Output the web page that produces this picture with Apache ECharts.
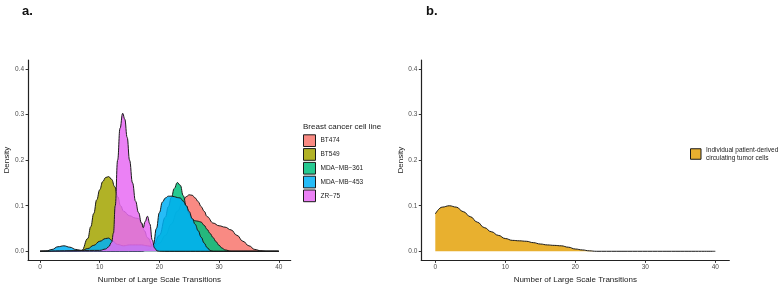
<!DOCTYPE html>
<html><head><meta charset="utf-8">
<script src="https://cdn.jsdelivr.net/npm/echarts@6/dist/echarts.min.js"></script>
<style>html,body{margin:0;padding:0;background:#fff}#c{width:784px;height:293px}</style>
</head><body><div id="c"></div>
<script>
const cellLines = ['BT474', 'BT549', 'MDA\u2212MB\u2212361', 'MDA\u2212MB\u2212453', 'ZR\u221275'];
const ctcName = 'Individual patient-derived\ncirculating tumor cells';
const legendTitleA = 'Breast cancer cell line';
const xTitle = 'Number of Large Scale Transitions';
const yTitle = 'Density';
const xTicks = [0, 10, 20, 30, 40];
const yTicks = [0, 0.1, 0.2, 0.3, 0.4];

const bt474X = [0, 17, 18, 19, 20, 21, 22, 23, 24, 24.5, 25, 25.5, 26, 26.5, 27, 27.5, 28, 29, 30, 31, 32, 33, 34, 35, 36, 37, 38, 40];
const bt474Y = [0, 0, 0.003, 0.008, 0.018, 0.035, 0.06, 0.088, 0.112, 0.12, 0.124, 0.123, 0.117, 0.109, 0.098, 0.088, 0.076, 0.062, 0.056, 0.053, 0.047, 0.035, 0.022, 0.012, 0.004, 0.001, 0, 0];

const bt549X = [0, 6, 7, 8, 8.5, 9, 9.5, 10, 10.5, 11, 11.5, 12, 12.5, 13, 13.5, 14, 15, 16, 16.5, 17, 17.5, 18, 19, 20, 21, 40];
const bt549Y = [0, 0, 0.002, 0.028, 0.054, 0.083, 0.113, 0.135, 0.153, 0.162, 0.164, 0.158, 0.142, 0.12, 0.1, 0.088, 0.078, 0.073, 0.072, 0.062, 0.045, 0.03, 0.01, 0.002, 0, 0];

const mda361X = [0, 17, 18, 19, 20, 21, 21.5, 22, 22.5, 23, 23.5, 24, 24.5, 25, 25.5, 26, 26.5, 27, 27.5, 28, 28.5, 29, 29.5, 30, 30.5, 31, 32, 40];
const mda361Y = [0, 0, 0.003, 0.012, 0.035, 0.075, 0.098, 0.118, 0.138, 0.151, 0.145, 0.122, 0.1, 0.082, 0.071, 0.067, 0.066, 0.064, 0.057, 0.048, 0.039, 0.03, 0.021, 0.013, 0.007, 0.003, 0, 0];

const mda453X = [0, 1, 2, 3, 4, 5, 6, 7, 8, 9, 10, 11, 11.5, 12, 13, 14, 15, 16, 17, 18, 18.5, 19, 19.5, 20, 20.5, 21, 21.5, 22, 22.5, 23, 23.5, 24, 24.5, 25, 25.5, 26, 26.5, 27, 27.5, 28, 28.5, 29, 40];
const mda453Y = [0, 0.0005, 0.004, 0.01, 0.012, 0.009, 0.004, 0.002, 0.006, 0.013, 0.022, 0.028, 0.029, 0.024, 0.015, 0.012, 0.014, 0.014, 0.014, 0.012, 0.011, 0.015, 0.05, 0.085, 0.108, 0.117, 0.121, 0.121, 0.12, 0.118, 0.117, 0.11, 0.1, 0.087, 0.072, 0.059, 0.045, 0.031, 0.018, 0.008, 0.002, 0, 0];

const zr75X = [0, 10, 11, 11.5, 12, 12.3, 12.6, 13, 13.4, 13.85, 14.2, 14.6, 15, 15.5, 16, 16.5, 17, 17.3, 17.6, 18, 18.4, 18.8, 19.2, 19.6, 20, 40];
const zr75Y = [0, 0.002, 0.005, 0.01, 0.02, 0.04, 0.1, 0.2, 0.27, 0.303, 0.29, 0.25, 0.2, 0.15, 0.11, 0.085, 0.062, 0.052, 0.065, 0.077, 0.06, 0.025, 0.007, 0.001, 0, 0];

const ctcX = [0, 1, 2, 3, 4, 5, 6, 7, 8, 9, 10, 11, 12, 13, 14, 15, 16, 17, 18, 19, 20, 21, 22, 23, 40];
const ctcY = [0.082, 0.097, 0.1, 0.097, 0.087, 0.076, 0.064, 0.052, 0.043, 0.035, 0.028, 0.024, 0.023, 0.022, 0.019, 0.016, 0.014, 0.013, 0.012, 0.009, 0.005, 0.003, 0.001, 0, 0];

const seriesXs = [bt474X, bt549X, mda361X, mda453X, zr75X];
const seriesYs = [bt474Y, bt549Y, mda361Y, mda453Y, zr75Y];
const fills = ['rgba(248,118,109,0.85)', 'rgba(163,165,0,0.85)', 'rgba(0,191,125,0.85)', 'rgba(0,176,246,0.85)', 'rgba(231,107,243,0.85)'];
const gold = '#E8B02F';

const FONT = '"Liberation Sans", Arial, sans-serif';
const pairs = (xs, ys) => xs.map((x, i) => [x, ys[i]]);

function xAxisCfg(idx) {
  return {
    type: 'value', gridIndex: idx, min: -2, max: 42,
    name: xTitle, nameLocation: 'middle', nameGap: 12,
    nameTextStyle: { fontFamily: FONT, fontSize: 8, color: '#1a1a1a' },
    axisLine: { show: true, onZero: false, lineStyle: { color: '#222', width: 1.2 } },
    axisTick: { show: true, length: 2.5, customValues: xTicks, lineStyle: { color: '#333', width: 1 } },
    axisLabel: { customValues: xTicks, margin: 3.5, fontFamily: FONT, fontSize: 6.5, color: '#4D4D4D' },
    splitLine: { show: false }
  };
}
function yAxisCfg(idx, gap) {
  return {
    type: 'value', gridIndex: idx, min: -0.02, max: 0.42,
    name: yTitle, nameLocation: 'middle', nameGap: gap, nameRotate: 90,
    nameTextStyle: { fontFamily: FONT, fontSize: 8, color: '#1a1a1a' },
    axisLine: { show: true, onZero: false, lineStyle: { color: '#222', width: 1.2 } },
    axisTick: { show: true, length: 2.5, customValues: yTicks, lineStyle: { color: '#333', width: 1 } },
    axisLabel: { customValues: yTicks, margin: 4, fontFamily: FONT, fontSize: 6.5, color: '#4D4D4D',
      formatter: v => v.toFixed(1) },
    splitLine: { show: false }
  };
}

const series = cellLines.map((name, i) => ({
  name, type: 'line', xAxisIndex: 0, yAxisIndex: 0, z: 3 + i,
  data: pairs(seriesXs[i], seriesYs[i]),
  smooth: 0.45, smoothMonotone: 'x', symbol: 'none',
  lineStyle: { color: '#1a1a1a', width: 1 },
  itemStyle: { color: fills[i] },
  areaStyle: { color: fills[i], opacity: 1 },
  emphasis: { disabled: true }, silent: true
}));
series.push({
  name: ctcName, type: 'line', xAxisIndex: 1, yAxisIndex: 1, z: 3,
  data: pairs(ctcX, ctcY),
  smooth: 0.45, smoothMonotone: 'x', symbol: 'none',
  lineStyle: { color: '#1a1a1a', width: 1 },
  itemStyle: { color: gold },
  areaStyle: { color: gold, opacity: 1 },
  emphasis: { disabled: true }, silent: true
});

const chart = echarts.init(document.getElementById('c'), null, { renderer: 'canvas' });
chart.setOption({
  animation: false,
  backgroundColor: '#fff',
  grid: [
    { left: 28.1, top: 60, width: 262.6, height: 200.4 },
    { left: 421.3, top: 60, width: 308, height: 200.4 }
  ],
  xAxis: [xAxisCfg(0), xAxisCfg(1)],
  yAxis: [yAxisCfg(0, 14), yAxisCfg(1, 14)],
  legend: [
    {
      orient: 'vertical', left: 303, top: 134.3, padding: 0, itemGap: 1.1,
      itemWidth: 12, itemHeight: 11.7, selectedMode: false,
      textStyle: { fontFamily: FONT, fontSize: 6.5, color: '#1a1a1a' },
      data: cellLines.map((n, i) => ({ name: n, icon: 'rect',
        itemStyle: { color: fills[i], borderColor: '#1a1a1a', borderWidth: 1 } }))
    },
    {
      orient: 'vertical', left: 690, top: 146.5, padding: 0,
      itemWidth: 10.5, itemHeight: 10.5, selectedMode: false,
      textStyle: { fontFamily: FONT, fontSize: 6.5, lineHeight: 7.5, color: '#1a1a1a' },
      data: [{ name: ctcName, icon: 'rect', itemStyle: { color: gold, borderColor: '#1a1a1a', borderWidth: 1 } }]
    }
  ],
  graphic: [
    { type: 'text', left: 303, top: 123, style: { text: legendTitleA, font: '8px ' + FONT, fill: '#1a1a1a' } },
    { type: 'text', left: 22, top: 5, style: { text: 'a.', font: 'bold 13px ' + FONT, fill: '#111' } },
    { type: 'text', left: 426, top: 5, style: { text: 'b.', font: 'bold 13px ' + FONT, fill: '#111' } }
  ],
  series
});
</script>
</body></html>
